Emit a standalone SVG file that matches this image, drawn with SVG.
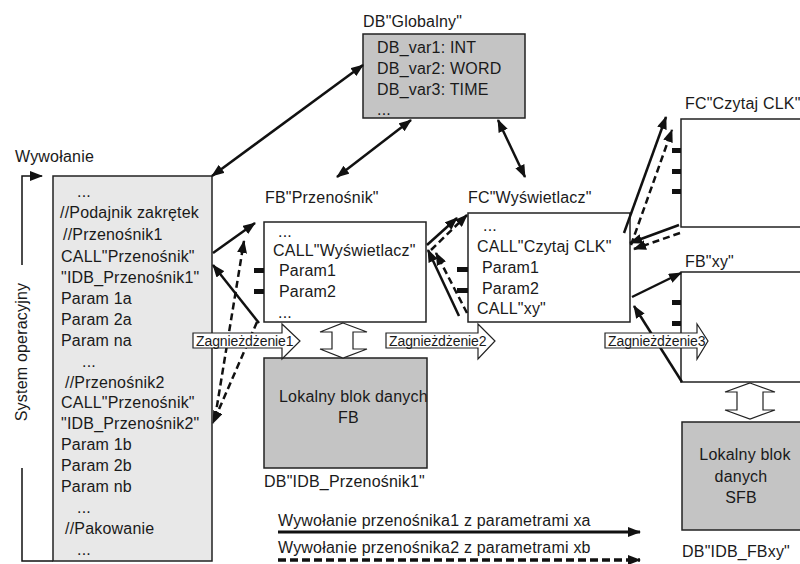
<svg xmlns="http://www.w3.org/2000/svg" width="800" height="564" viewBox="0 0 800 564">
<defs>
<style>
text{font-family:"Liberation Sans",Arial,sans-serif;font-size:16px;letter-spacing:0.2px;fill:#1a1a1a}
.sm{font-size:14px;letter-spacing:-0.1px}
.box{stroke:#222;stroke-width:1.5}
.white{fill:#fff}
.light{fill:#e8e8e8}
.gray{fill:#c4c4c4}
.ln{stroke:#111;stroke-width:2.5;fill:none}
.ds{stroke:#111;stroke-width:2.5;fill:none;stroke-dasharray:7 4}
.tick{fill:#111}
.blk{fill:#fff;stroke:#222;stroke-width:1.2}
</style>
<marker id="ah" viewBox="0 0 13 10" refX="12" refY="5" markerWidth="13" markerHeight="10" markerUnits="userSpaceOnUse" orient="auto-start-reverse">
<path d="M0,0 L13,5 L0,10 z" fill="#111"/>
</marker>
</defs>
<rect width="800" height="564" fill="#fff"/>

<g id="system">
<text x="15" y="162">Wywołanie</text>
<path d="M22,265 V176 H42" class="ln" style="stroke-width:1.5" marker-end="url(#ah)"/>
<path d="M22,468 V561 H53" class="ln" style="stroke-width:1.5"/>
<text transform="translate(27,352) rotate(-90)" text-anchor="middle">System operacyjny</text>
</g>

<g id="main">
<rect x="53" y="176" width="159" height="385" class="box light"/>
<text x="77" y="197">...</text>
<text x="60" y="218">//Podajnik zakrętek</text>
<text x="63" y="240">//Przenośnik1</text>
<text x="61" y="262">CALL"Przenośnik"</text>
<text x="61" y="283">"IDB_Przenośnik1"</text>
<text x="61" y="304">Param 1a</text>
<text x="61" y="325">Param 2a</text>
<text x="61" y="346">Param na</text>
<text x="82" y="367">...</text>
<text x="65" y="388">//Przenośnik2</text>
<text x="61" y="408">CALL"Przenośnik"</text>
<text x="61" y="429">"IDB_Przenośnik2"</text>
<text x="61" y="450">Param 1b</text>
<text x="61" y="471">Param 2b</text>
<text x="61" y="492">Param nb</text>
<text x="77" y="513">...</text>
<text x="65" y="534">//Pakowanie</text>
<text x="77" y="555">...</text>
</g>

<g id="db-globalny">
<text x="363" y="27">DB"Globalny"</text>
<rect x="363" y="34" width="162" height="84" class="box gray"/>
<text x="377" y="53">DB_var1: INT</text>
<text x="377" y="74">DB_var2: WORD</text>
<text x="377" y="95">DB_var3: TIME</text>
<text x="377" y="115">...</text>
</g>

<g id="fb-przenosnik">
<text x="265" y="203">FB"Przenośnik"</text>
<rect x="264" y="222" width="162" height="100" class="box white"/>
<text x="278" y="237">...</text>
<text x="273" y="256">CALL"Wyświetlacz"</text>
<text x="279" y="276">Param1</text>
<text x="279" y="297">Param2</text>
<text x="278" y="318">...</text>
<rect x="254" y="268" width="10" height="5" class="tick"/>
<rect x="254" y="289" width="10" height="5" class="tick"/>
</g>

<g id="fc-wyswietlacz">
<text x="468" y="203">FC"Wyświetlacz"</text>
<rect x="468" y="213" width="162" height="109" class="box white"/>
<text x="483" y="231">...</text>
<text x="477" y="252">CALL"Czytaj CLK"</text>
<text x="482" y="273">Param1</text>
<text x="482" y="294">Param2</text>
<text x="477" y="314">CALL"xy"</text>
<rect x="457" y="267" width="11" height="5" class="tick"/>
<rect x="457" y="288" width="11" height="5" class="tick"/>
</g>

<g id="fc-czytaj">
<text x="685" y="109">FC"Czytaj CLK"</text>
<rect x="681" y="119" width="130" height="108" class="box white"/>
<rect x="672" y="148" width="9" height="5" class="tick"/>
<rect x="672" y="169" width="9" height="5" class="tick"/>
<rect x="672" y="189" width="9" height="5" class="tick"/>
</g>

<g id="fb-xy">
<text x="685" y="267">FB"xy"</text>
<rect x="681" y="272" width="130" height="110" class="box white"/>
<rect x="672" y="300" width="9" height="5" class="tick"/>
<rect x="672" y="321" width="9" height="5" class="tick"/>
</g>

<g id="lokalny-fb">
<rect x="264" y="358" width="163" height="110" class="box gray"/>
<text x="279" y="402">Lokalny blok danych</text>
<text x="338" y="423">FB</text>
<text x="264" y="487">DB"IDB_Przenośnik1"</text>
</g>

<g id="lokalny-sfb">
<rect x="682" y="422" width="128" height="108" class="box gray"/>
<text x="745" y="460" text-anchor="middle">Lokalny blok</text>
<text x="741" y="482" text-anchor="middle">danych</text>
<text x="741" y="503" text-anchor="middle">SFB</text>
<text x="682" y="557">DB"IDB_FBxy"</text>
</g>

<g id="connectors">
<line x1="212" y1="176" x2="363" y2="65" class="ln" marker-start="url(#ah)" marker-end="url(#ah)"/>
<line x1="411" y1="120" x2="337" y2="177" class="ln" marker-start="url(#ah)" marker-end="url(#ah)"/>
<line x1="498" y1="120" x2="525" y2="177" class="ln" marker-start="url(#ah)" marker-end="url(#ah)"/>
<line x1="213" y1="253" x2="255" y2="223" class="ln" marker-end="url(#ah)"/>
<line x1="259" y1="323" x2="213" y2="265" class="ln" marker-end="url(#ah)"/>
<line x1="215" y1="418" x2="244" y2="241" class="ds" marker-end="url(#ah)"/>
<line x1="257" y1="322" x2="213" y2="423" class="ds" marker-end="url(#ah)"/>
<line x1="427" y1="245" x2="457" y2="218" class="ln" marker-end="url(#ah)"/>
<line x1="431" y1="250" x2="467" y2="215" class="ds" marker-end="url(#ah)"/>
<line x1="459" y1="316" x2="428" y2="250" class="ln" marker-end="url(#ah)"/>
<line x1="467" y1="313" x2="436" y2="253" class="ds" marker-end="url(#ah)"/>
<line x1="624" y1="233" x2="666" y2="117" class="ln" marker-end="url(#ah)"/>
<line x1="631" y1="245" x2="672" y2="130" class="ds" marker-end="url(#ah)"/>
<line x1="679" y1="225" x2="630" y2="243" class="ln" marker-end="url(#ah)"/>
<line x1="680" y1="233" x2="634" y2="249" class="ds" marker-end="url(#ah)"/>
<line x1="632" y1="297" x2="681" y2="273" class="ln" marker-end="url(#ah)"/>
<line x1="682" y1="382" x2="634" y2="306" class="ln" marker-end="url(#ah)"/>
<line x1="278" y1="532" x2="640" y2="532" class="ln" style="stroke-width:3" marker-end="url(#ah)"/>
<line x1="278" y1="560" x2="640" y2="560" class="ds" style="stroke-width:3.5;stroke-dasharray:8 4" marker-end="url(#ah)"/>
</g>

<g id="legend">
<text x="278" y="526">Wywołanie przenośnika1 z parametrami xa</text>
<text x="278" y="553">Wywołanie przenośnika2 z parametrami xb</text>
</g>

<g id="nest1">
<polygon points="193,333 282,333 282,324 300,341 282,359 282,348 193,348" class="blk"/>
<text x="196" y="346" class="sm">Zagnieżdżenie1</text>
</g>
<g id="nest2">
<polygon points="386,333 478,333 478,324 495,341 478,359 478,348 386,348" class="blk"/>
<text x="389" y="346" class="sm">Zagnieżdżenie2</text>
</g>
<g id="nest3">
<polygon points="605,333 697,333 697,324 708,341 697,359 697,348 605,348" class="blk"/>
<text x="608" y="346" class="sm">Zagnieżdżenie3</text>
</g>

<g id="dbl-fb">
<polygon points="343,323 367,332 353,332 353,349 367,349 343,358 320,349 332,349 332,332 320,332" class="blk"/>
</g>
<g id="dbl-sfb">
<polygon points="750,383 775,392 763,392 763,410 775,410 750,419 725,410 737,410 737,392 725,392" class="blk"/>
</g>
</svg>
